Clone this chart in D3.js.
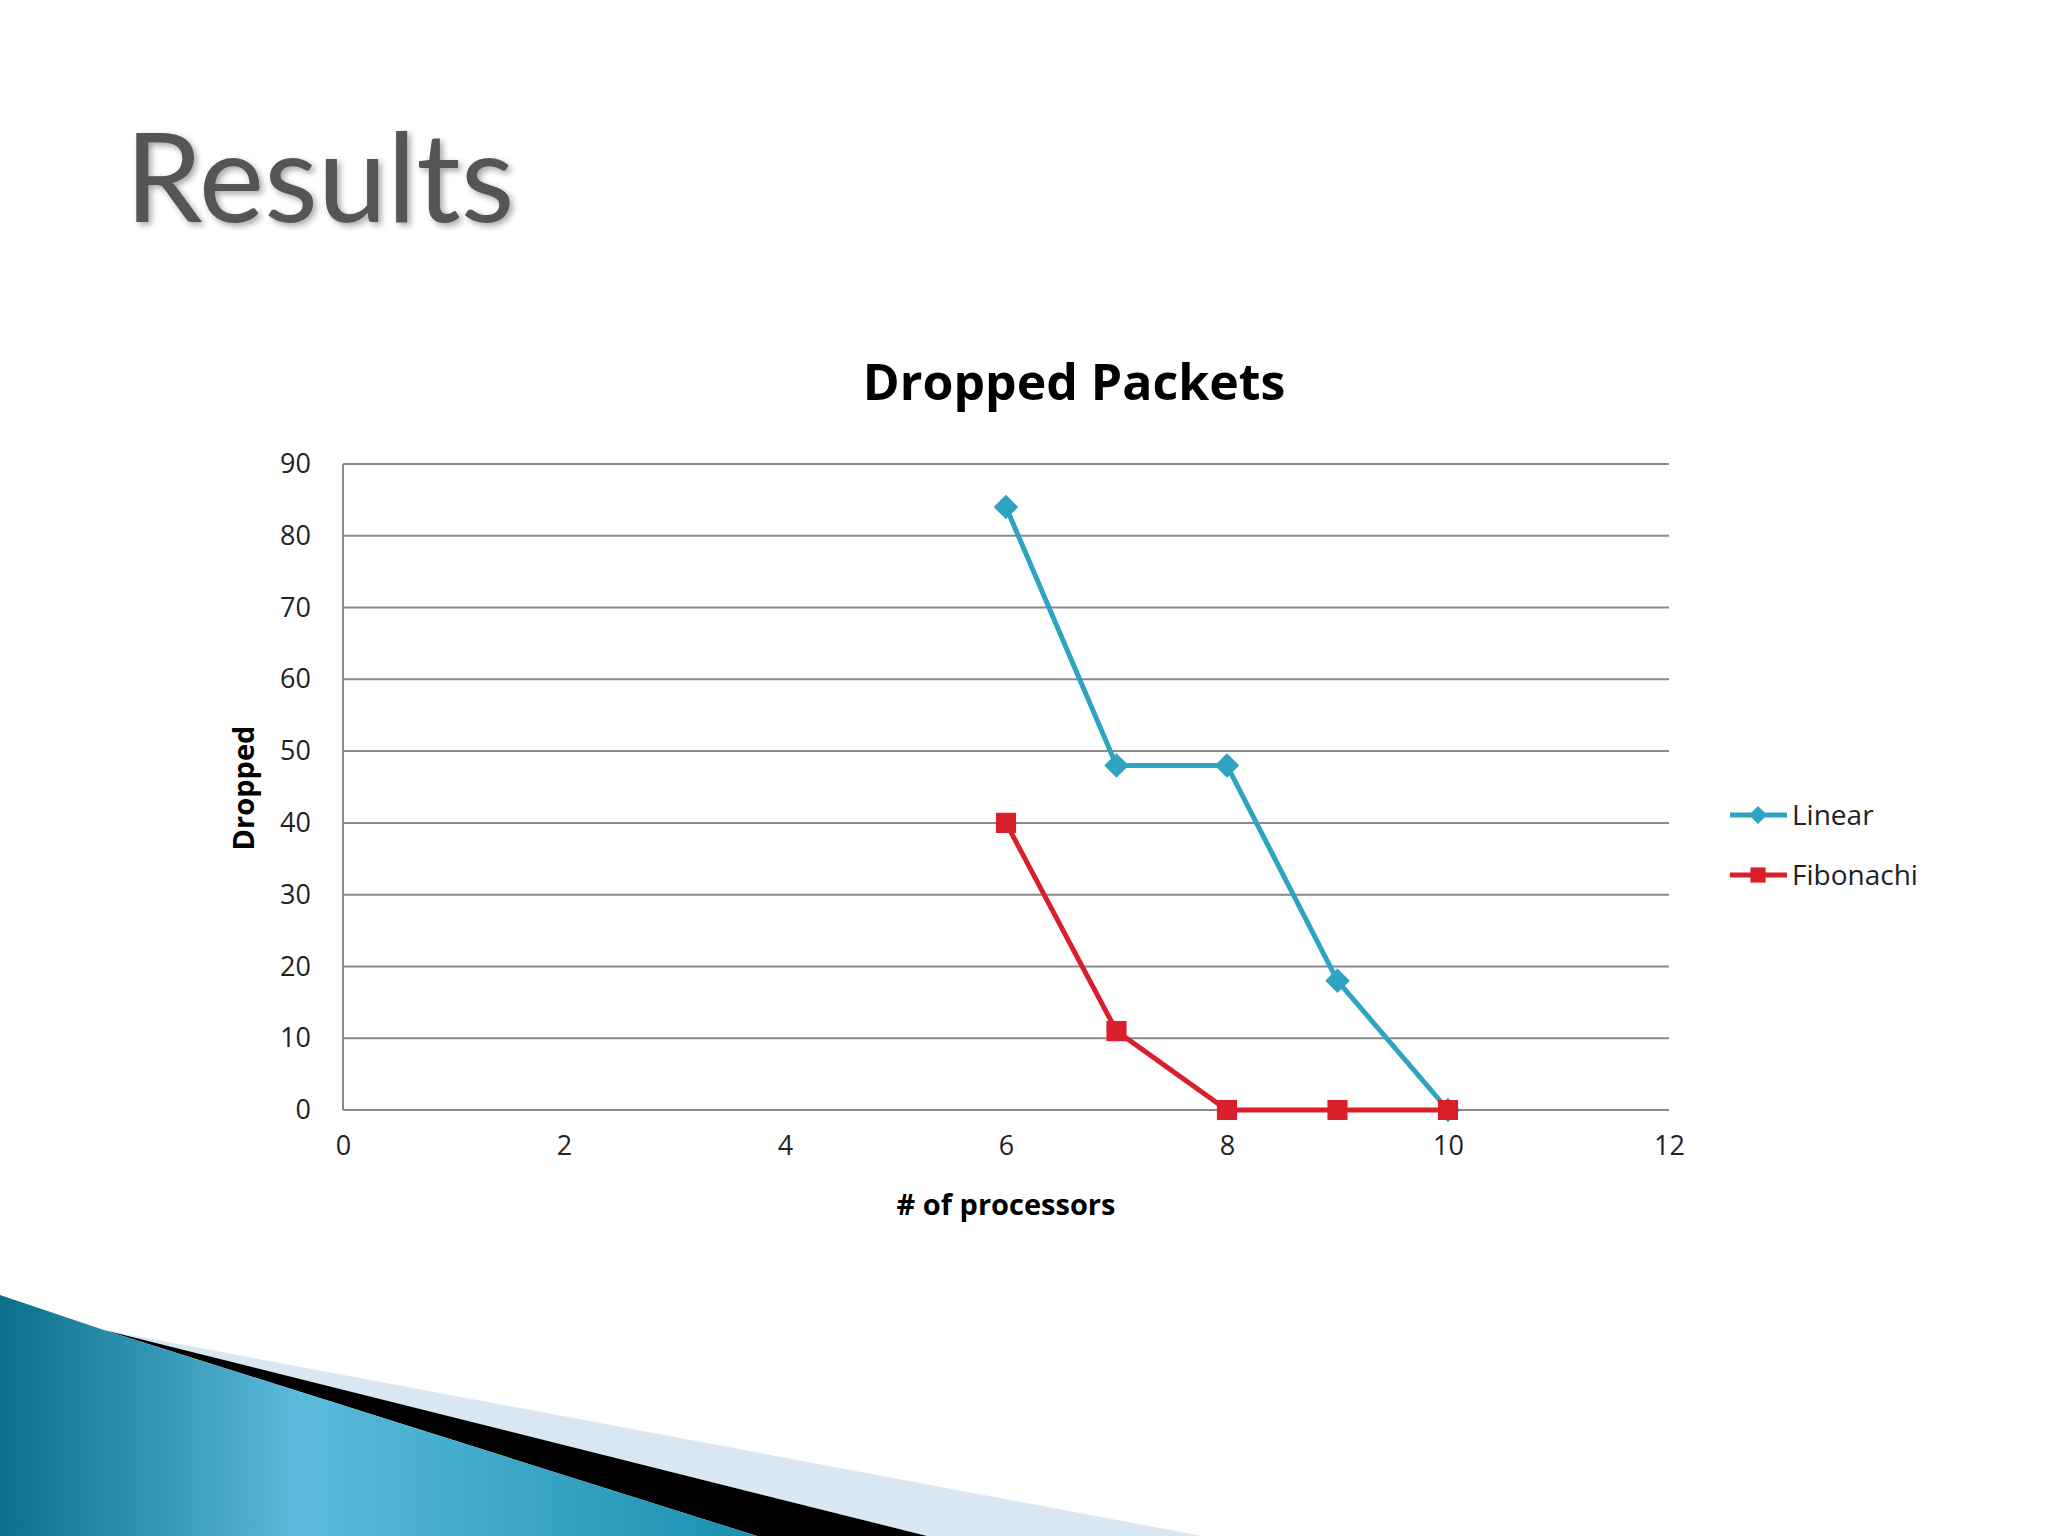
<!DOCTYPE html>
<html><head><meta charset="utf-8">
<script src="https://cdn.jsdelivr.net/npm/d3@7"></script>
<style>body{margin:0;background:#fff}</style>
</head><body>
<svg id="chart" width="2048" height="1536"></svg>
<script>
// data
let processors = [6, 7, 8, 9, 10];
let linear = [84, 48, 48, 18, 0];
let fibonachi = [40, 11, 0, 0, 0];
let xTicks = [0, 2, 4, 6, 8, 10, 12];
let yTicks = [0, 10, 20, 30, 40, 50, 60, 70, 80, 90];

let svg = d3.select("#chart");
let font = "'Open Sans', 'DejaVu Sans', sans-serif";

// slide decoration, bottom left
let defs = svg.append("defs");
let grad = defs.append("linearGradient").attr("id", "wedge")
    .attr("x1", 0).attr("y1", 0).attr("x2", 1).attr("y2", 0);
grad.append("stop").attr("offset", "0%").attr("stop-color", "#0b6f8c");
grad.append("stop").attr("offset", "40%").attr("stop-color", "#5bbbdc");
grad.append("stop").attr("offset", "100%").attr("stop-color", "#1a8fb0");
svg.append("polygon").attr("points", "104,1330 1202,1536 927,1536").attr("fill", "#d8e7f1");
svg.append("polygon").attr("points", "104,1330 927,1536 757,1536").attr("fill", "#000");
svg.append("polygon").attr("points", "0,1295 104,1330 757,1536 0,1536").attr("fill", "url(#wedge)");

// slide title
let shadow = defs.append("filter").attr("id", "shadow");
shadow.append("feDropShadow").attr("dx", 3).attr("dy", 3).attr("stdDeviation", 3)
    .attr("flood-color", "#000").attr("flood-opacity", 0.35);
svg.append("text").attr("x", 125).attr("y", 222)
    .attr("font-family", "Lato, 'Open Sans', sans-serif").attr("font-size", 124)
    .attr("fill", "#555").attr("filter", "url(#shadow)").text("Results");

let plotLeft = 343, plotRight = 1669, plotTop = 464, plotBottom = 1110;
let x = d3.scaleLinear().domain([0, 12]).range([plotLeft, plotRight]);
let y = d3.scaleLinear().domain([0, 90]).range([plotBottom, plotTop]);

// gridlines
svg.append("g").selectAll("line").data(yTicks).join("line")
    .attr("x1", plotLeft).attr("x2", plotRight)
    .attr("y1", d => y(d)).attr("y2", d => y(d))
    .attr("stroke", "#8a8a8a").attr("stroke-width", 2);
svg.append("line").attr("x1", plotLeft).attr("x2", plotLeft).attr("y1", plotTop).attr("y2", plotBottom)
    .attr("stroke", "#8a8a8a").attr("stroke-width", 2);

// axes
let yAxis = svg.append("g").attr("transform", `translate(${plotLeft},0)`)
    .call(d3.axisLeft(y).tickValues(yTicks).tickSize(0).tickPadding(32));
let xAxis = svg.append("g").attr("transform", `translate(0,${plotBottom})`)
    .call(d3.axisBottom(x).tickValues(xTicks).tickSize(0).tickPadding(26));
[yAxis, xAxis].forEach(a => {
    a.select(".domain").remove();
    a.selectAll("text").attr("font-family", font).attr("font-size", 27).attr("fill", "#222");
});

// titles
svg.append("text").attr("x", 1074).attr("y", 400).attr("text-anchor", "middle")
    .attr("font-family", font).attr("font-weight", "bold").attr("font-size", 50)
    .text("Dropped Packets");
svg.append("text").attr("x", 1006).attr("y", 1215).attr("text-anchor", "middle")
    .attr("font-family", font).attr("font-weight", "bold").attr("font-size", 29)
    .text("# of processors");
svg.append("text").attr("transform", "translate(254,788) rotate(-90)").attr("text-anchor", "middle")
    .attr("font-family", font).attr("font-weight", "bold").attr("font-size", 29)
    .text("Dropped");

let series = [
    {name: "Linear", values: linear, color: "#2ea3c2", shape: d3.symbolDiamond2, size: 300},
    {name: "Fibonachi", values: fibonachi, color: "#d91f2b", shape: d3.symbolSquare2, size: 420}
];
let line = d3.line().x((d, i) => x(processors[i])).y(d => y(d));

series.forEach((s, k) => {
    svg.append("path").datum(s.values).attr("d", line)
        .attr("fill", "none").attr("stroke", s.color).attr("stroke-width", 5);
    svg.append("g").selectAll("path").data(s.values).join("path")
        .attr("transform", (d, i) => `translate(${x(processors[i])},${y(d)})`)
        .attr("d", d3.symbol().type(s.shape).size(s.size))
        .attr("fill", s.color).attr("stroke", s.color).attr("stroke-width", 2);

    // legend
    let ly = 815 + k * 60;
    svg.append("line").attr("x1", 1730).attr("x2", 1787).attr("y1", ly).attr("y2", ly)
        .attr("stroke", s.color).attr("stroke-width", 5);
    svg.append("path").attr("transform", `translate(1758,${ly})`)
        .attr("d", d3.symbol().type(s.shape).size(s.size * 0.7)).attr("fill", s.color);
    svg.append("text").attr("x", 1792).attr("y", ly + 10)
        .attr("font-family", font).attr("font-size", 28).attr("fill", "#222").text(s.name);
});
</script>
</body></html>
